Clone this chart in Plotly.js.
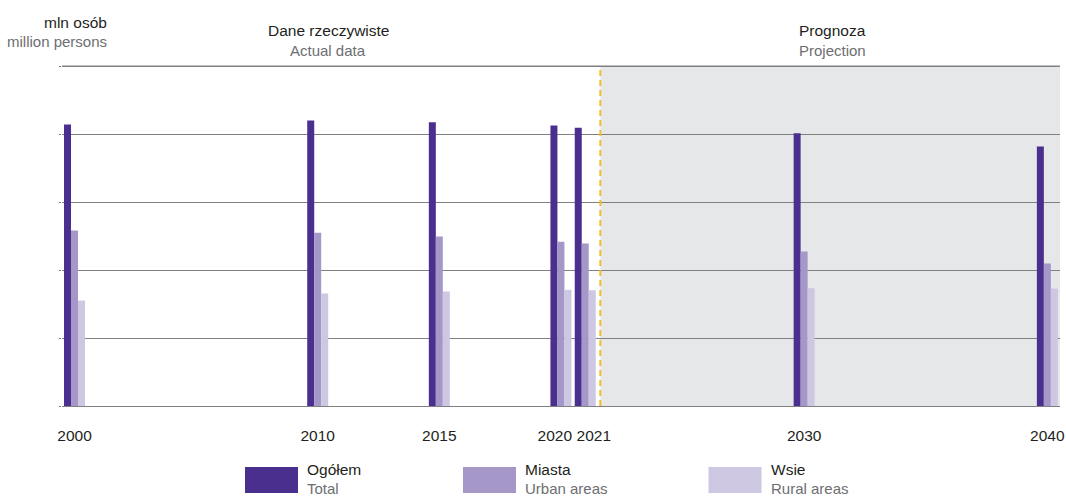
<!DOCTYPE html>
<html>
<head>
<meta charset="utf-8">
<script src="https://cdn.plot.ly/plotly-3.0.1.min.js"></script>
<style>html,body{margin:0;padding:0;background:#fff;}#chart{width:1066px;height:499px;}</style>
</head>
<body>
<div id="chart"></div>
<script>
// ---- data (mln persons) ----
const years = [2000, 2010, 2015, 2020, 2021, 2030, 2040];
const yearLabels = ["2000", "2010", "2015", "2020", "2021", "2030", "2040"];
const total = [38.25, 38.79, 38.56, 38.11, 37.80, 37.07, 35.26];
const urban = [23.85, 23.53, 23.03, 22.31, 22.08, 20.99, 19.36];
const rural = [14.33, 15.29, 15.56, 15.79, 15.73, 16.01, 15.96];
const seriesNamesPl = ["Ogółem", "Miasta", "Wsie"];
const seriesNamesEn = ["Total", "Urban areas", "Rural areas"];
const colors = ["#4a2f8f", "#a598c8", "#cdc7e1"];
const projectionStart = 2021.62;

// ---- layout constants ----
const W = 1066, H = 499;
const mL = 62, mR = 6, mT = 62, mB = 93;
const pw = W - mL - mR, ph = H - mT - mB;
const px = x => (x - mL) / pw;
const py = y => (H - mB - y) / ph;
const FONT = "'Liberation Sans', Arial, sans-serif";
const DARK = "#231f20", GRAY = "#6d6e71", GRID = "#808080";
const xMin = 1999.486, xMax = 2040.52;
const dtick = 9.24, nGrid = 5, yMax = 46.745;
const gridTop = dtick * nGrid;
// nudge the two crowded labels apart (in years), as in the original layout
const labelNudge = {2020: -0.25, 2021: 0.35};
const labelPos = years.map(y => y + (labelNudge[y] || 0));

const seriesVals = [total, urban, rural];
const traces = seriesVals.map((v, i) => ({
  type: "bar", x: years, y: v, name: seriesNamesPl[i],
  marker: {color: colors[i], line: {width: 0}},
  hoverinfo: "x+y+name"
}));

const annotations = [];
const ann = (text, x, y, anchor, color, size) => annotations.push({
  text, xref: "paper", yref: "paper", x: px(x), y: py(y),
  xanchor: anchor, yanchor: "middle", showarrow: false,
  font: {family: FONT, size: size || 15, color}
});
ann("mln osób", 109, 22, "right", DARK, 15.5);
ann("million persons", 109, 42, "right", GRAY, 15);
ann("Dane rzeczywiste", 328, 30, "center", DARK, 15.5);
ann("Actual data", 328, 51, "center", GRAY, 15);
ann("Prognoza", 797, 30, "left", DARK, 15.5);
ann("Projection", 797, 51, "left", GRAY, 15);

const shapes = [
  {type: "rect", xref: "x", yref: "y", x0: projectionStart, x1: xMax, y0: 0, y1: gridTop,
   fillcolor: "#e6e7e9", line: {width: 0}, layer: "below"},
  {type: "line", xref: "paper", yref: "y", x0: 0, x1: 1, y0: gridTop, y1: gridTop,
   line: {color: GRID, width: 1}, layer: "below"},
  {type: "line", xref: "x", yref: "y", x0: projectionStart, x1: projectionStart, y0: 0, y1: gridTop,
   line: {color: "#fbb829", width: 2, dash: "6px,4px"}, layer: "above"}
];
const legX = [245, 463, 708.5];
legX.forEach((lx, i) => {
  shapes.push({type: "rect", xref: "paper", yref: "paper",
    x0: px(lx), x1: px(lx + 53), y0: py(467), y1: py(493),
    fillcolor: colors[i], line: {width: 0}});
  ann(seriesNamesPl[i], lx + 60, 470, "left", DARK, 15.5);
  ann(seriesNamesEn[i], lx + 60, 488.5, "left", GRAY, 15);
});

const layout = {
  width: W, height: H,
  margin: {l: mL, r: mR, t: mT, b: mB, pad: 0},
  paper_bgcolor: "#fff", plot_bgcolor: "rgba(0,0,0,0)",
  barmode: "group", bargap: 0.137, bargroupgap: 0,
  showlegend: false,
  font: {family: FONT, color: DARK},
  xaxis: {
    type: "linear", range: [xMin, xMax],
    tickvals: labelPos, ticktext: yearLabels, tickangle: 0,
    showgrid: false, zeroline: false, showline: false, ticks: "",
    tickfont: {family: FONT, size: 15.5, color: DARK},
    ticklabelstandoff: 18, fixedrange: true
  },
  yaxis: {
    range: [0, yMax], tick0: 0, dtick: dtick,
    showticklabels: false, showgrid: true, gridcolor: GRID, gridwidth: 1,
    zeroline: true, zerolinecolor: GRID, zerolinewidth: 1,
    ticks: "outside", ticklen: 2, tickcolor: GRID, showline: false, fixedrange: true
  },
  shapes, annotations
};

Plotly.newPlot("chart", traces, layout, {displayModeBar: false, staticPlot: true});
</script>
</body>
</html>
